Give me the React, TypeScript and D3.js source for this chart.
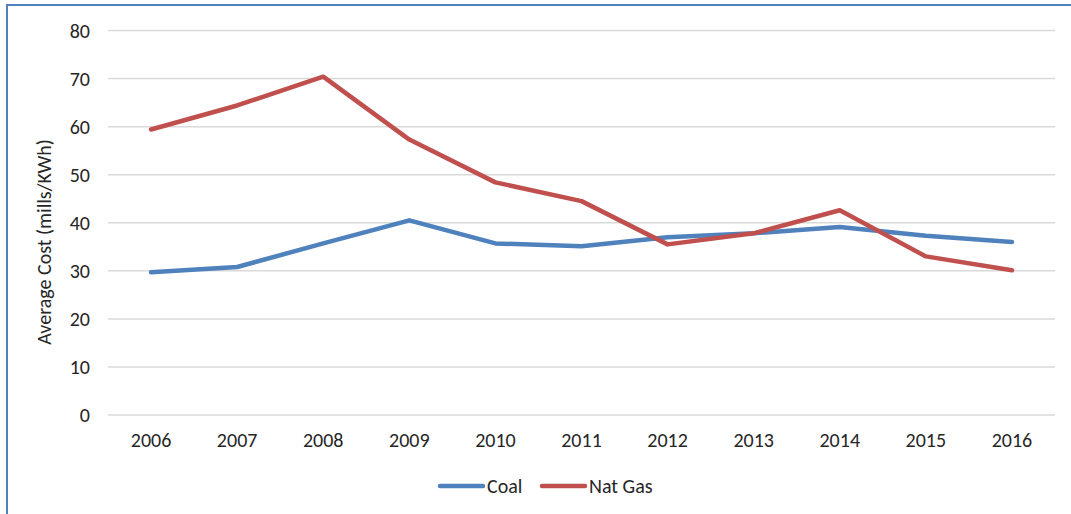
import React, { useRef, useEffect } from 'react';
import * as d3 from 'd3';

const years = ['2006', '2007', '2008', '2009', '2010', '2011', '2012', '2013', '2014', '2015', '2016'];
const coal = [29.7, 30.8, 35.7, 40.5, 35.7, 35.1, 37.0, 37.8, 39.1, 37.3, 36.0];
const natGas = [59.4, 64.4, 70.4, 57.3, 48.4, 44.5, 35.5, 37.8, 42.6, 33.0, 30.1];
const yTicks = [0, 10, 20, 30, 40, 50, 60, 70, 80];

const seriesList = [
  { name: 'Coal', values: coal, color: '#4F81BD' },
  { name: 'Nat Gas', values: natGas, color: '#C0504D' },
];

const App = () => {
  const svgRef = useRef<SVGSVGElement>(null);

  useEffect(() => {
    const W = 1071;
    const H = 514;
    const margin = { top: 30.5, right: 16, bottom: 99, left: 108 };
    const width = W - margin.left - margin.right;
    const height = H - margin.top - margin.bottom;
    const font = 'Carlito, "Open Sans", "Liberation Sans", sans-serif';
    const fs = 20;

    const root = d3.select(svgRef.current);
    root.selectAll('*').remove();
    root.attr('width', W).attr('height', H);

    root.append('rect')
      .attr('x', 7).attr('y', 5)
      .attr('width', W + 10).attr('height', H + 10)
      .attr('fill', '#fff')
      .attr('stroke', '#4F81BD')
      .attr('stroke-width', 2);

    const svg = root.append('g')
      .attr('transform', `translate(${margin.left},${margin.top})`);

    const x = d3.scalePoint<string>()
      .domain(years)
      .range([0, width])
      .padding(0.5);

    const y = d3.scaleLinear()
      .domain([0, 80])
      .range([height, 0]);

    svg.append('g')
      .selectAll('line')
      .data(yTicks)
      .enter()
      .append('line')
      .attr('x1', 0).attr('x2', width)
      .attr('y1', (d) => y(d)).attr('y2', (d) => y(d))
      .attr('stroke', '#D9D9D9')
      .attr('stroke-width', 1.5);

    svg.append('g')
      .selectAll('text')
      .data(yTicks)
      .enter()
      .append('text')
      .attr('x', -18)
      .attr('y', (d) => y(d))
      .attr('dy', '0.35em')
      .attr('text-anchor', 'end')
      .attr('font-family', font)
      .attr('font-size', fs)
      .attr('fill', '#262626')
      .text((d) => d);

    svg.append('g')
      .selectAll('text')
      .data(years)
      .enter()
      .append('text')
      .attr('x', (d) => x(d)!)
      .attr('y', height + 25)
      .attr('dy', '0.35em')
      .attr('text-anchor', 'middle')
      .attr('font-family', font)
      .attr('font-size', fs)
      .attr('fill', '#262626')
      .text((d) => d);

    svg.append('text')
      .attr('transform', `translate(${44 - margin.left},${242 - margin.top}) rotate(-90)`)
      .attr('dy', '0.35em')
      .attr('text-anchor', 'middle')
      .attr('font-family', font)
      .attr('font-size', fs)
      .attr('fill', '#262626')
      .text('Average Cost (mills/KWh)');

    const line = d3.line<number>()
      .x((_, i) => x(years[i])!)
      .y((d) => y(d));

    seriesList.forEach((s) => {
      svg.append('path')
        .datum(s.values)
        .attr('d', line)
        .attr('fill', 'none')
        .attr('stroke', s.color)
        .attr('stroke-width', 4.5)
        .attr('stroke-linejoin', 'round')
        .attr('stroke-linecap', 'round');
    });

    const legend = root.append('g').attr('transform', 'translate(0,486)');
    const legendX = [440, 542];
    seriesList.forEach((s, i) => {
      legend.append('line')
        .attr('x1', legendX[i]).attr('x2', legendX[i] + 43)
        .attr('y1', 0).attr('y2', 0)
        .attr('stroke', s.color)
        .attr('stroke-width', 4.5)
        .attr('stroke-linecap', 'round');
      legend.append('text')
        .attr('x', legendX[i] + 47)
        .attr('y', 0)
        .attr('dy', '0.35em')
        .attr('font-family', font)
        .attr('font-size', fs)
        .attr('fill', '#262626')
        .text(s.name);
    });
  }, []);

  return (
    <svg ref={svgRef} style={{ position: 'absolute', left: 0, top: 0, display: 'block' }}></svg>
  );
};

export default App;
